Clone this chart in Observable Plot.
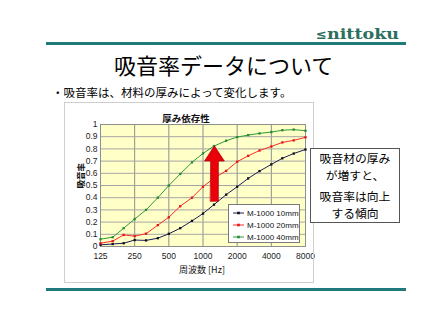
<!DOCTYPE html>
<html><head><meta charset="utf-8">
<script src="https://cdn.jsdelivr.net/npm/d3@7"></script>
<script src="https://cdn.jsdelivr.net/npm/@observablehq/plot@0.6"></script>
<style>
html,body{margin:0;padding:0;background:#fff;}
#page{position:relative;width:448px;height:317px;overflow:hidden;background:#fff;font-family:"Noto Sans CJK JP",sans-serif;color:#000;}
.abs{position:absolute;white-space:nowrap;}
.rule{position:absolute;background:#1f7b79;}
#chart{position:absolute;left:65px;top:103px;width:248px;height:179px;outline:1.5px solid #cfcfcf;}
#legend{position:absolute;left:228px;top:204px;width:70px;height:37px;background:#fff;border:1px solid #7a7a7a;font-family:"Liberation Sans",Arial,sans-serif;font-size:8px;color:#111;}
#legend .row{position:absolute;left:4px;height:10px;display:flex;align-items:center;}
#legend svg{margin-right:2px;}
#note{position:absolute;left:310px;top:148px;width:88px;height:73px;background:#fff;border:1px solid #555;font-size:11.8px;}
#note div{position:absolute;left:0;width:88px;text-align:center;line-height:17.2px;}
</style></head>
<body><div id="page">
<div class="rule" style="left:46px;top:42px;width:360px;height:3px;"></div>
<div class="rule" style="left:46px;top:288px;width:360px;height:3px;"></div>
<div class="abs" style="left:316px;top:26px;font-family:'DejaVu Serif',serif;font-weight:bold;font-size:14px;color:#2d6f5e;"><span style="font-style:italic;font-size:13px;">≤</span><span style="display:inline-block;transform:scaleX(1.25);transform-origin:left;">nittoku</span></div>
<div class="abs" id="maintitle" style="left:114px;top:52px;font-size:22px;line-height:24px;">吸音率データについて</div>
<div class="abs" style="left:52px;top:85px;font-size:11.5px;line-height:14px;">・吸音率は、材料の厚みによって変化します。</div>
<div id="chart"></div>
<div id="legend"></div>
<div id="note">
<div style="top:0px;">吸音材の厚み<br>が増すと、</div>
<div style="top:38px;">吸音率は向上<br>する傾向</div>
</div>
</div>
<script>
// ---- data ----
const freqs = [125,160,200,250,315,400,500,630,800,1000,1250,1600,2000,2500,3150,4000,5000,6300,8000];
const xTicks = [125,250,500,1000,2000,4000,8000];
const yTicks = [0,0.1,0.2,0.3,0.4,0.5,0.6,0.7,0.8,0.9,1];
const seriesNames = ["M-1000 10mm","M-1000 20mm","M-1000 40mm"];
const seriesColors = ["#1c1c5e","#ff2a2a","#2f9a3a"];
const markerColors = ["#111111","#e01818","#2a8a32"];
const values10 = [0.014,0.020,0.027,0.053,0.050,0.068,0.104,0.150,0.210,0.270,0.343,0.425,0.490,0.558,0.618,0.673,0.723,0.762,0.795];
const values20 = [0.027,0.044,0.095,0.085,0.105,0.175,0.240,0.330,0.400,0.490,0.560,0.620,0.695,0.743,0.787,0.820,0.853,0.870,0.895];
const values40 = [0.060,0.076,0.150,0.225,0.300,0.400,0.500,0.595,0.690,0.763,0.823,0.867,0.897,0.913,0.927,0.938,0.953,0.958,0.949];
const arrowF = [1162,1367,1367,1544,1260,1029,1162];
const arrowV = [0.37,0.37,0.70,0.70,0.825,0.70,0.70];
const chartTitle = "厚み依存性";
const yLabel = "吸音率";
const xLabel = "周波数 [Hz]";

const allValues = [values10, values20, values40];
const rows = seriesNames.map((name, s) => freqs.map((f, i) => ({name, f, v: allValues[s][i]})));
const arrowPts = arrowF.map((f, i) => ({f, v: arrowV[i]}));

const marks = [
  Plot.frame({fill: "#ffffc8"}),
  Plot.gridX(xTicks, {stroke: "#8e8e8e", strokeOpacity: 1}),
  Plot.gridY(yTicks, {stroke: "#a6a6a6", strokeOpacity: 1}),
  Plot.frame({stroke: "#8e8e8e"}),
  Plot.axisX(xTicks, {tickSize: 0, tickPadding: 6, label: null, tickFormat: d => String(d)}),
  Plot.axisY(yTicks, {tickSize: 0, tickPadding: 3, label: null, tickFormat: d => String(+d.toFixed(1))})
];
rows.forEach((data, s) => {
  marks.push(Plot.line(data, {x: "f", y: "v", stroke: seriesColors[s], strokeWidth: 1}));
  marks.push(Plot.dot(data, {x: "f", y: "v", symbol: "square", r: 1.3, fill: markerColors[s], stroke: "none"}));
});
marks.push(Plot.line(arrowPts, {x: "f", y: "v", fill: "#e8000a", stroke: "#a80000", strokeWidth: 0.6, curve: "linear-closed"}));
marks.push(Plot.text([chartTitle], {frameAnchor: "top", dx: -17, dy: -9, fontSize: 9.5, fontWeight: "bold", fontFamily: "Noto Sans CJK JP", fill: "#111"}));
marks.push(Plot.text([yLabel], {frameAnchor: "left", dx: -19, dy: 3, rotate: -90, fontSize: 8.5, fontWeight: "bold", fontFamily: "Noto Sans CJK JP", fill: "#111"}));
marks.push(Plot.text([xLabel], {frameAnchor: "bottom", dx: -1, dy: 26, fontSize: 9, fontFamily: "Noto Sans CJK JP", fill: "#111"}));

const chart = Plot.plot({
  width: 248, height: 179,
  marginLeft: 35, marginRight: 8, marginTop: 21, marginBottom: 36,
  style: {fontFamily: "'Liberation Sans', Arial, sans-serif", fontSize: "8.5px", color: "#222", background: "#fff", overflow: "visible"},
  x: {type: "log", base: 2, domain: [125, 8000]},
  y: {domain: [0, 1]},
  marks
});
document.getElementById("chart").appendChild(chart);

// legend
const leg = document.getElementById("legend");
seriesNames.forEach((name, s) => {
  const row = document.createElement("div");
  row.className = "row";
  row.style.top = (3 + s * 12) + "px";
  row.innerHTML = `<svg width="12" height="10"><line x1="0" x2="11" y1="5" y2="5" stroke="${seriesColors[s]}" stroke-width="1"/><rect x="4.2" y="3.7" width="2.6" height="2.6" fill="${markerColors[s]}"/></svg><span>${name}</span>`;
  leg.appendChild(row);
});
</script>
</body></html>
